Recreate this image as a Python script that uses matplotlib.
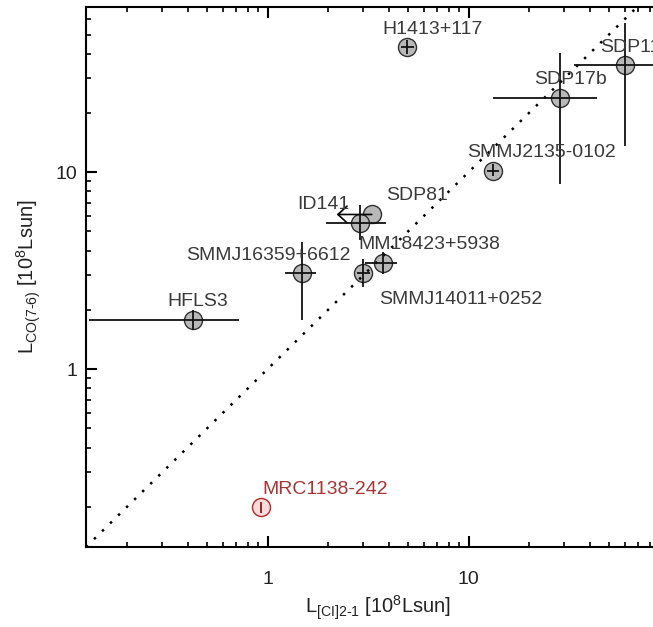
import numpy as np
import matplotlib
matplotlib.use("Agg")
import matplotlib.pyplot as plt
from matplotlib.ticker import FuncFormatter, NullFormatter, LogLocator

plt.rcParams['font.family'] = ['Liberation Sans', 'DejaVu Sans']
plt.rcParams['mathtext.fontset'] = 'custom'
plt.rcParams['mathtext.rm'] = 'Liberation Sans'
plt.rcParams['mathtext.it'] = 'Liberation Sans'
plt.rcParams['mathtext.default'] = 'regular'

# Galaxies with [CI](2-1) and CO(7-6) luminosities (10^8 Lsun)
names = ["H1413+117", "SDP11", "SDP17b", "SMMJ2135-0102", "ID141",
         "SMMJ16359+6612", "MM18423+5938", "SMMJ14011+0252", "HFLS3"]
L_CI = [4.97, 60.4, 28.4, 13.2, 2.90, 1.49, 3.75, 2.98, 0.425]
L_CO = [43.1, 34.9, 23.9, 10.2, 5.51, 3.06, 3.46, 3.06, 1.77]
CI_lo = [4.64, 33.3, 13.2, 12.3, 1.96, 1.215, 3.04, 2.80, 0.129]
CI_hi = [5.33, 150.0, 43.8, 14.2, 3.87, 1.75, 4.43, 3.22, 0.72]
CO_lo = [39.7, 13.6, 8.69, 9.54, 4.52, 1.77, 3.03, 2.61, 1.58]
CO_hi = [46.8, 57.0, 40.2, 10.98, 6.80, 4.43, 3.94, 3.62, 2.00]

# SDP81: upper limit on [CI]
sdp81_name = "SDP81"
sdp81_CI = 3.30
sdp81_CI_arrow_to = 2.21
sdp81_CO = 6.10

# MRC1138-242
mrc_name = "MRC1138-242"
mrc_CI = 0.93
mrc_CO = 0.20
mrc_CO_lo = 0.187
mrc_CO_hi = 0.212

# label offsets from each point (pixels, left/baseline of the text)
label_offsets = {
    "H1413+117": (-25, 13.5), "SDP11": (-25, 13), "SDP17b": (-25, 14),
    "SMMJ2135-0102": (-26, 14), "ID141": (-63.5, 14), "SMMJ16359+6612": (-116, 13.6),
    "MM18423+5938": (-25, 14), "SMMJ14011+0252": (16.7, -31), "HFLS3": (-25, 14),
    "SDP81": (14.4, 14), "MRC1138-242": (1, 13),
}

DPI = 100
W, H = 653, 627
fig = plt.figure(figsize=(W / DPI, H / DPI), dpi=DPI)
ax = fig.add_axes([86 / W, 80 / H, 583.5 / W, 540 / H])
ax.set_xscale('log')
ax.set_yscale('log')
ax.set_xlim(0.125, 100)
ax.set_ylim(0.125, 69)

label_color = '#3a3a3a'
fill = '#b8b8b8'
edge = '#303030'

# one-to-one line
xx = np.array([0.125, 100.0])
ax.plot(xx, xx, ls=(0, (1, 3.5)), lw=1.8, color='k', zorder=4)

# SDP81 first so ID141 sits on top of it
ax.plot([sdp81_CI], [sdp81_CO], 'o', ms=13, mfc=fill, mec=edge, mew=1.0, zorder=2)
ax.annotate('', xy=(sdp81_CI_arrow_to, sdp81_CO), xytext=(sdp81_CI, sdp81_CO),
            arrowprops=dict(arrowstyle='->,head_length=0.65,head_width=0.6',
                            lw=1.2, color='k', shrinkA=0, shrinkB=0), zorder=5)

x = np.array(L_CI)
y = np.array(L_CO)
xerr = [x - np.array(CI_lo), np.array(CI_hi) - x]
yerr = [y - np.array(CO_lo), np.array(CO_hi) - y]
ax.plot(x, y, 'o', ms=13, mfc=fill, mec=edge, mew=1.0, zorder=3, linestyle='none')
ax.errorbar(x, y, xerr=xerr, yerr=yerr, fmt='none', ecolor='#111111',
            elinewidth=1.3, capsize=0, zorder=5)

# MRC1138-242 in red
ax.plot([mrc_CI], [mrc_CO], 'o', ms=13, mfc='#fbdada', mec='#b02828', mew=1.0, zorder=3)
ax.errorbar([mrc_CI], [mrc_CO], yerr=[[mrc_CO - mrc_CO_lo], [mrc_CO_hi - mrc_CO]],
            fmt='none', ecolor='#901818', elinewidth=1.3, capsize=0, zorder=5)

pts = dict(zip(names, zip(L_CI, L_CO)))
pts[sdp81_name] = (sdp81_CI, sdp81_CO)
for nm, (px, py) in pts.items():
    dx, dy = label_offsets[nm]
    ax.annotate(nm, (px, py), xytext=(dx * 72 / DPI, dy * 72 / DPI),
                textcoords='offset points', ha='left', va='baseline',
                fontsize=14, color=label_color, annotation_clip=False, zorder=6)
dx, dy = label_offsets[mrc_name]
ax.annotate(mrc_name, (mrc_CI, mrc_CO), xytext=(dx * 72 / DPI, dy * 72 / DPI),
            textcoords='offset points', ha='left', va='baseline',
            fontsize=14, color='#a83434', annotation_clip=False, zorder=6)

# axes styling
for s in ax.spines.values():
    s.set_linewidth(1.5)
fmt = FuncFormatter(lambda v, p: '%g' % v if v < 50 else '')
for axis in (ax.xaxis, ax.yaxis):
    axis.set_major_locator(LogLocator(base=10))
    axis.set_minor_locator(LogLocator(base=10, subs=np.arange(2, 10)))
    axis.set_major_formatter(fmt)
    axis.set_minor_formatter(NullFormatter())
ax.tick_params(which='both', direction='in', top=True, right=True, colors='k',
               labelcolor='#222222')
ax.tick_params(which='major', length=8, width=1.5, labelsize=14)
ax.tick_params(which='minor', length=3.6, width=1.2)
ax.tick_params(axis='x', which='major', pad=17)
ax.tick_params(axis='y', which='major', pad=6)

ax.set_xlabel(r'L$_{[CI]2\text{-}1}$ [10$^{8}$Lsun]', fontsize=14.5, color='#222222', labelpad=4)
ax.set_ylabel(r'L$_{CO(7\text{-}6)}$ [10$^{8}$Lsun]', fontsize=14.5, color='#222222', labelpad=9)

fig.savefig("out.png", dpi=DPI)
